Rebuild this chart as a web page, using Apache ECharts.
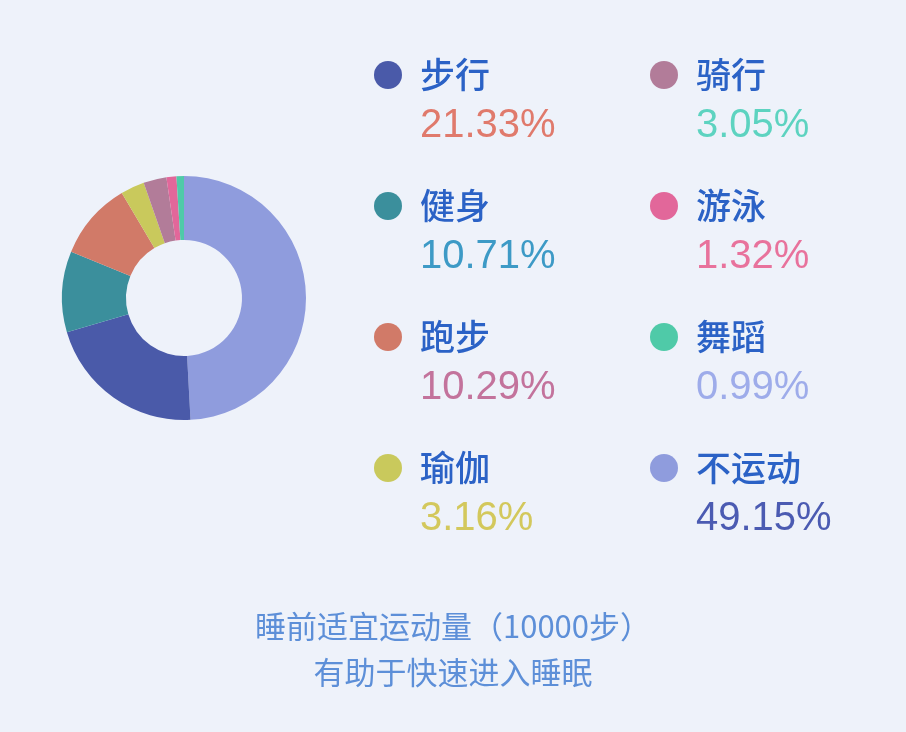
<!DOCTYPE html>
<html>
<head>
    <meta charset="utf-8">
    <title>睡前运动</title>
    <script src="https://cdn.jsdelivr.net/npm/echarts@6/dist/echarts.min.js"></script>
    <style>
        html, body { margin: 0; padding: 0; background: #eef2fa; }
        #main { width: 906px; height: 732px; }
    </style>
</head>
<body>
<div id="main"></div>
<script>
    // 饼图顺序：从12点方向顺时针
    var names = ['不运动', '步行', '健身', '跑步', '瑜伽', '骑行', '游泳', '舞蹈'];
    var values = [49.15, 21.33, 10.71, 10.29, 3.16, 3.05, 1.32, 0.99];
    var sliceColors = ['#8f9cdd', '#4a5aa9', '#3b8f9c', '#d17a68', '#c9c95c', '#b27c99', '#e2679a', '#4fcaa8'];
    // 图例里百分比的颜色
    var pctColors = {
        '步行': '#e07a6c', '骑行': '#5dd3c0', '健身': '#3d9ac6', '游泳': '#e8729c',
        '跑步': '#c3739c', '舞蹈': '#9eacea', '瑜伽': '#d3c85c', '不运动': '#4b5bb2'
    };
    var leftNames = ['步行', '健身', '跑步', '瑜伽'];
    var rightNames = ['骑行', '游泳', '舞蹈', '不运动'];
    var captionLines = ['睡前适宜运动量（10000步）', '有助于快速进入睡眠'];

    var chart = echarts.init(document.getElementById('main'));

    var rich = {
        blank: { lineHeight: 32, fontSize: 10 },
        name: { lineHeight: 70, fontSize: 35, fontWeight: 500, color: '#2b62c6',
            fontFamily: 'Noto Sans CJK SC' }
    };
    for (var i = 0; i < names.length; i++) {
        rich['p' + i] = { lineHeight: 32, fontSize: 40, color: pctColors[names[i]],
            fontFamily: 'Liberation Sans' };
    }

    function legendLabel(name) {
        var idx = names.indexOf(name);
        return '{blank|}\n{name|' + name + '}\n{p' + idx + '|' + values[idx].toFixed(2) + '%}';
    }

    function makeLegend(list, left) {
        return {
            data: list,
            orient: 'vertical',
            left: left,
            top: 19,
            padding: 0,
            itemGap: 4,
            icon: 'circle',
            itemWidth: 28,
            itemHeight: 28,
            selectedMode: false,
            formatter: legendLabel,
            textStyle: { padding: [0, 0, 0, 13], rich: rich }
        };
    }

    var seriesData = [];
    for (var j = 0; j < names.length; j++) {
        seriesData.push({ name: names[j], value: values[j], itemStyle: { color: sliceColors[j] } });
    }

    var option = {
        backgroundColor: '#eef2fa',
        animation: false,
        legend: [makeLegend(leftNames, 374), makeLegend(rightNames, 650)],
        series: [{
            type: 'pie',
            center: [184, 298],
            radius: [58, 122],
            startAngle: 90,
            clockwise: true,
            label: { show: false },
            labelLine: { show: false },
            emphasis: { disabled: true },
            data: seriesData
        }],
        graphic: [
            {
                type: 'text', left: 'center', top: 611,
                style: { text: captionLines[0], fontSize: 31, fill: '#5d8fd8',
                    fontFamily: 'Noto Sans CJK SC' }
            },
            {
                type: 'text', left: 'center', top: 657,
                style: { text: captionLines[1], fontSize: 31, fill: '#5d8fd8',
                    fontFamily: 'Noto Sans CJK SC' }
            }
        ]
    };

    chart.setOption(option);
</script>
</body>
</html>
